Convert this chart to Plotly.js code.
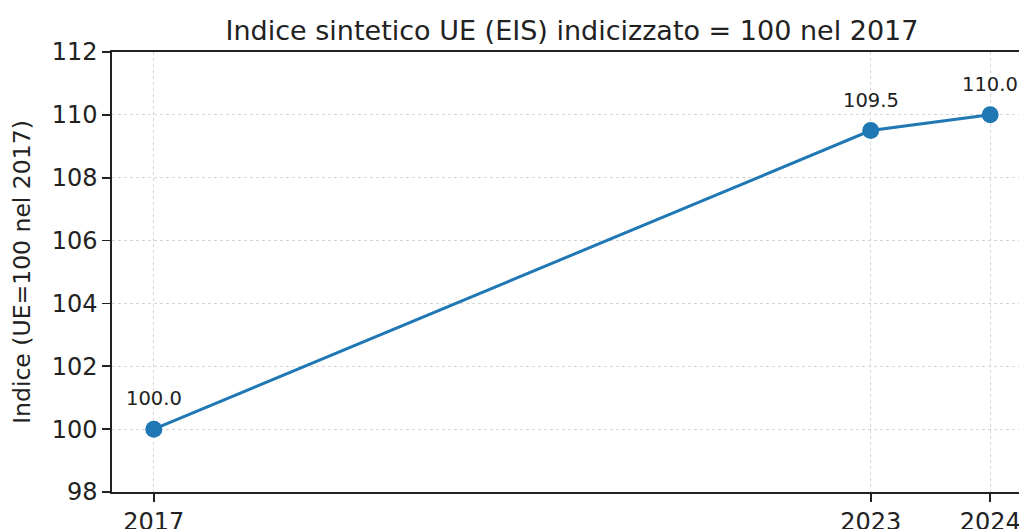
<!DOCTYPE html>
<html>
<head>
<meta charset="utf-8">
<script src="https://cdn.plot.ly/plotly-3.0.1.min.js"></script>
<style>
html, body { margin: 0; padding: 0; overflow: hidden; background: #fff; }
#wrap { width: 1019px; height: 529px; overflow: hidden; position: relative; }
#chart { width: 1100px; height: 529px; position: absolute; left: 0; top: 0; }
</style>
</head>
<body>
<div id="wrap"><div id="chart"></div></div>
<script>
const years = [2017, 2023, 2024];
const indexValues = [100.0, 109.5, 110.0];
const xTickLabels = ["2017", "2023", "2024"];
const yTicks = [98, 100, 102, 104, 106, 108, 110, 112];

const FONT = "DejaVu Sans, Verdana, sans-serif";
const blue = "#1f77b4";

const trace = {
  x: years,
  y: indexValues,
  type: "scatter",
  mode: "lines+markers",
  line: { color: blue, width: 3 },
  marker: { color: blue, size: 17 },
  hoverinfo: "skip",
  cliponaxis: false
};

const annotations = years.map((yr, i) => ({
  x: yr,
  y: indexValues[i],
  xref: "x",
  yref: "y",
  text: indexValues[i].toFixed(1),
  showarrow: false,
  yanchor: "bottom",
  xanchor: "center",
  yshift: 17,
  font: { family: FONT, size: 19.5, color: "#222" }
}));

const axisCommon = {
  showline: true,
  linecolor: "#222",
  linewidth: 1.6,
  ticks: "outside",
  ticklen: 8,
  tickwidth: 1.6,
  tickcolor: "#222",
  showgrid: true,
  gridcolor: "#d6d6d6",
  gridwidth: 1,
  griddash: "dot",
  zeroline: false,
  tickfont: { family: FONT, size: 24, color: "#222" }
};

const layout = {
  width: 1100,
  height: 529,
  margin: { l: 112, r: 68, t: 52, b: 37, pad: 0 },
  paper_bgcolor: "#fff",
  plot_bgcolor: "#fff",
  showlegend: false,
  title: {
    text: "Indice sintetico UE (EIS) indicizzato = 100 nel 2017",
    font: { family: FONT, size: 27, color: "#222" },
    x: 0.5,
    xref: "paper",
    xanchor: "center",
    y: 1,
    yref: "paper",
    yanchor: "bottom",
    pad: { b: 12 }
  },
  xaxis: Object.assign({}, axisCommon, {
    mirror: true,
    range: [2016.65, 2024.35],
    tickmode: "array",
    tickvals: years,
    ticktext: xTickLabels
  }),
  yaxis: Object.assign({}, axisCommon, {
    mirror: false,
    range: [98, 112],
    tickmode: "array",
    tickvals: yTicks,
    ticktext: yTicks.map(String),
    title: {
      text: "Indice (UE=100 nel 2017)",
      font: { family: FONT, size: 23.5, color: "#222" },
      standoff: 14
    }
  }),
  annotations: annotations
};

Plotly.newPlot("chart", [trace], layout, { displayModeBar: false, staticPlot: true });
</script>
</body>
</html>
